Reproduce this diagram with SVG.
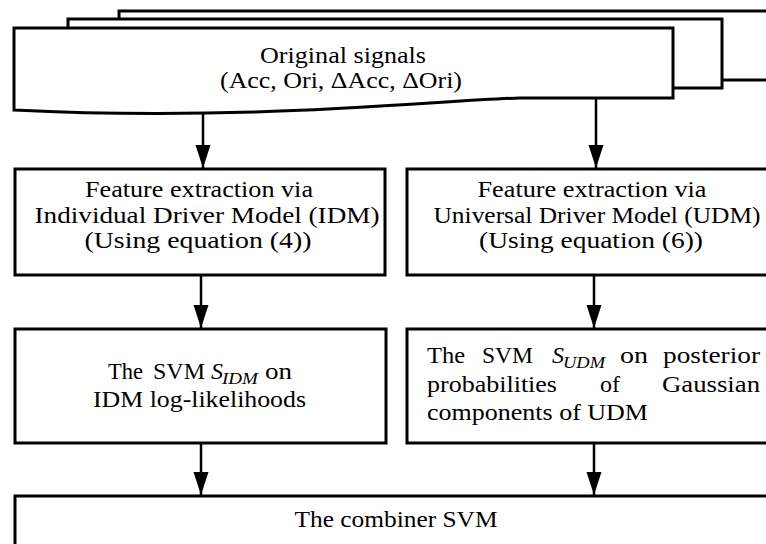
<svg xmlns="http://www.w3.org/2000/svg" width="766" height="544" viewBox="0 0 766 544">
<style>
.box{fill:#fff;stroke:#000;stroke-width:3}
.t{font-family:"Liberation Serif","Times New Roman",serif;font-size:24px;fill:#000}
.c{text-anchor:middle}
.it{font-style:italic}
.sub{font-style:italic;font-size:16px}
.con{stroke:#000;stroke-width:2.5;fill:none}
</style>
<defs>
<marker id="ah" markerUnits="userSpaceOnUse" markerWidth="24" markerHeight="16" refX="23" refY="7.5" orient="auto">
<path d="M0,0 L23,7.5 L0,15 Z" fill="#000"/>
</marker>
</defs>
<rect width="766" height="544" fill="#fff"/>

<g id="signals">
<rect class="box" x="119" y="11" width="700" height="69"/>
<rect class="box" x="68" y="19" width="654" height="69"/>
<path class="box" d="M14,28 L673,28 L673,98 L520,98 C440,100 250,122 14,110 Z"/>
<text class="t c" x="343" y="63" textLength="166" lengthAdjust="spacingAndGlyphs">Original signals</text>
<text class="t c" x="341" y="88" textLength="242" lengthAdjust="spacingAndGlyphs">(Acc, Ori, ΔAcc, ΔOri)</text>
</g>

<g id="idm-features">
<rect class="box" x="15" y="169" width="370" height="106"/>
<text class="t c" x="199" y="197" textLength="228" lengthAdjust="spacingAndGlyphs">Feature extraction via</text>
<text class="t c" x="207" y="223" textLength="345" lengthAdjust="spacingAndGlyphs">Individual Driver Model (IDM)</text>
<text class="t c" x="198" y="248" textLength="227" lengthAdjust="spacingAndGlyphs">(Using equation (4))</text>
</g>

<g id="udm-features">
<rect class="box" x="407" y="169" width="380" height="106"/>
<text class="t c" x="592" y="197" textLength="229" lengthAdjust="spacingAndGlyphs">Feature extraction via</text>
<text class="t c" x="597" y="223" textLength="327" lengthAdjust="spacingAndGlyphs">Universal Driver Model (UDM)</text>
<text class="t c" x="591" y="248" textLength="224" lengthAdjust="spacingAndGlyphs">(Using equation (6))</text>
</g>

<g id="svm-idm">
<rect class="box" x="15" y="329" width="371" height="114"/>
<text class="t" y="379"><tspan x="108" textLength="35" lengthAdjust="spacingAndGlyphs">The</tspan> <tspan x="153" textLength="52" lengthAdjust="spacingAndGlyphs">SVM</tspan> <tspan x="211" class="it">S</tspan><tspan class="sub" x="222" dy="5" textLength="36" lengthAdjust="spacingAndGlyphs">IDM</tspan><tspan x="265" dy="-5" textLength="27" lengthAdjust="spacingAndGlyphs">on</tspan></text>
<text class="t c" x="199.5" y="407" textLength="213" lengthAdjust="spacingAndGlyphs">IDM log-likelihoods</text>
</g>

<g id="svm-udm">
<rect class="box" x="407" y="329" width="380" height="114"/>
<text class="t" y="363"><tspan x="427" textLength="38" lengthAdjust="spacingAndGlyphs">The</tspan> <tspan x="482" textLength="51" lengthAdjust="spacingAndGlyphs">SVM</tspan> <tspan x="552" class="it">S</tspan><tspan class="sub" x="563" dy="5" textLength="42" lengthAdjust="spacingAndGlyphs">UDM</tspan><tspan x="620" dy="-5" textLength="28" lengthAdjust="spacingAndGlyphs">on</tspan> <tspan x="663" textLength="97" lengthAdjust="spacingAndGlyphs">posterior</tspan></text>
<text class="t" y="392"><tspan x="427" textLength="130" lengthAdjust="spacingAndGlyphs">probabilities</tspan> <tspan x="600" textLength="20" lengthAdjust="spacingAndGlyphs">of</tspan> <tspan x="662" textLength="98" lengthAdjust="spacingAndGlyphs">Gaussian</tspan></text>
<text class="t" x="427" y="420" textLength="221" lengthAdjust="spacingAndGlyphs">components of UDM</text>
</g>

<g id="combiner">
<rect class="box" x="15" y="496" width="772" height="60"/>
<text class="t c" x="396" y="527" textLength="203" lengthAdjust="spacingAndGlyphs">The combiner SVM</text>
</g>

<g id="connectors">
<line class="con" x1="203" y1="112" x2="203" y2="168" marker-end="url(#ah)"/>
<line class="con" x1="596" y1="98" x2="596" y2="168" marker-end="url(#ah)"/>
<line class="con" x1="201" y1="275" x2="201" y2="328" marker-end="url(#ah)"/>
<line class="con" x1="594" y1="275" x2="594" y2="328" marker-end="url(#ah)"/>
<line class="con" x1="201" y1="443" x2="201" y2="495" marker-end="url(#ah)"/>
<line class="con" x1="594" y1="443" x2="594" y2="495" marker-end="url(#ah)"/>
</g>
</svg>
